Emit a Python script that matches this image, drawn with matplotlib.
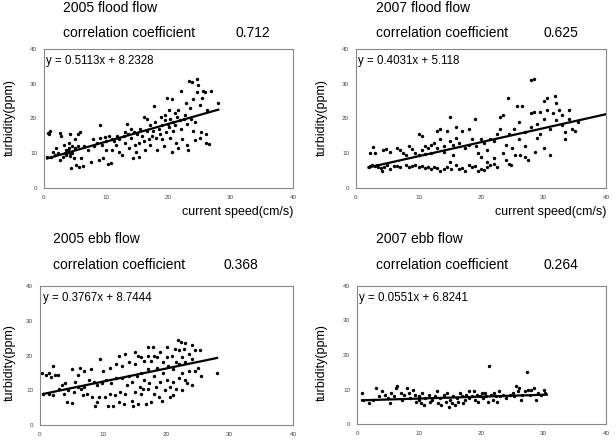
import matplotlib
matplotlib.use('Agg')
import matplotlib.pyplot as plt

plt.rcParams['font.family'] = ['Liberation Sans', 'DejaVu Sans']

W, H = 616, 446

# ---- 2005 flood flow ----
f05_x = [0.5, 0.8, 1, 0.7, 1.2, 1.5, 1.8, 2, 2.3, 2.5, 2.5, 2.8, 3, 3.2, 3.3, 3.5, 3.6, 3.8, 4, 4,
         4.1, 4.2, 4.3, 4.5, 4.5, 4.8, 5, 5, 5.2, 5.5, 5.5, 5.7, 5.8, 6, 6.2, 3.5, 3.8, 4.2,
         6.5, 7, 7.5, 7.8, 8, 8.5, 8.8, 9, 9, 9.3, 9.5, 9.8, 10, 10, 10.3, 10.5, 10.7, 11, 11,
         11.3, 11.5, 11.8, 12, 12, 12.5, 12.8, 13, 13, 13.3, 13.5, 13.7, 14, 14, 14.3, 14.5,
         14.6, 14.8, 15, 15.2, 15.3, 15.5, 15.7, 16, 16, 16.3, 16.5, 16.6, 16.8, 17, 17, 17.3,
         17.5, 17.7, 17.9, 18, 18.2, 18.4, 18.6, 18.8, 19, 19, 19.2, 19.4, 19.5, 19.6, 19.8,
         19.9, 20, 20, 20.2, 20.3, 20.5, 20.5, 20.7, 20.8, 21, 21, 21.2, 21.3, 21.5, 21.6,
         21.8, 22, 22, 22.2, 22.5, 22.6, 22.8, 23, 23, 23.2, 23.3, 23.5, 23.6, 23.8, 24, 24,
         24.2, 24.3, 24.5, 24.6, 24.8, 25, 25, 25.2, 25.4, 25.5, 25.8, 26, 26, 26.2, 26.5,
         26.8, 28]
f05_y = [9, 15.5, 16.5, 15.8, 8.8, 10.5, 9.5, 11.5, 10, 8, 15.8, 15, 9, 12.5, 10.2, 11, 9.8,
         10.5, 11.5, 13, 9.2, 15.5, 5.8, 10, 12, 8.5, 11.5, 14, 6.5, 15.5, 12, 6, 16, 8.5, 6.2,
         9.5, 10.8, 10.2,
         12, 11, 7.5, 14, 12, 13, 8, 18, 14.5, 12.5, 8.5, 14.8, 11, 13.5, 7, 15, 7.2, 11, 14,
         13.5, 12.5, 15, 10.5, 14, 9.5, 15, 16, 13, 18.5, 15.5, 11.5, 14.5, 17, 8.5, 16,
         12.5, 10.5, 15.5, 8.8, 13, 17, 15, 20.5, 13.5, 11, 16.5, 20, 14, 12.5, 18, 15,
         16.5, 23.5, 19, 14.5, 10.8, 17, 15.5, 20.5, 18, 14, 12, 21, 19.5, 16, 26,
         18.5, 22.5, 17.5, 20, 14.5, 10.5, 25.5, 19, 16.5, 21.5, 18, 13, 20.5, 22.5, 11.5,
         19.5, 28, 17, 14, 20, 21, 24.5, 18.5, 12.5, 11, 30.8, 23, 20, 30.5, 16.5, 25.5,
         19, 13.8, 27.5, 31.5, 29.5, 24, 14.5, 16, 26, 27.8, 27.5, 15.5, 13, 22.5, 12.8,
         27.8, 24.5]

# ---- 2007 flood flow ----
f07_x = [2, 2.3, 2.6, 3, 3.3, 3.5, 4, 4.2, 4.5, 5, 5.5, 6, 6.5, 7, 8, 8.5, 9, 9.5, 10, 10.5,
         11, 11.5, 12, 12.5, 13, 13.5, 14, 14.5, 15, 15.2, 16, 16.5, 17, 17.5, 18, 18.5, 19,
         19.5, 20, 20.5, 21, 21.5, 22, 22.5,
         2.3, 2.7, 3, 4.3, 4.8, 5.5, 6.5, 7, 7.5, 8, 8.5, 9, 9.5, 10, 10, 10.5, 10.5, 11, 11,
         11.5, 12, 12, 12.5, 13, 13, 13.5, 13.5, 14, 14, 14.5, 15, 15, 15.5, 15.5, 16, 16,
         16.5, 17, 17.5, 18, 18, 18.5, 19, 19.2, 19.5, 20, 20, 20.5, 21, 21, 21.5, 22, 22,
         22.5, 23, 23, 23.5, 23.5, 24, 24, 24.3, 24.5, 24.5, 24.8, 25, 25.3, 25.5, 25.8, 26,
         26, 26.3, 26.5, 27, 27, 27, 27.5, 28, 28, 28, 28.5, 28.5, 28.7, 29, 29, 29.5, 29.5,
         30, 30, 30, 30.5, 30.5, 31, 31, 31.5, 31.8, 32, 32, 32.5, 33, 33, 33.5, 33.5, 34,
         34, 34.5, 35, 35.5]
f07_y = [6, 6.2, 6.5, 6.3, 6.5, 6, 5.8, 4.8, 6, 6.5, 5.5, 6.3, 6.2, 6, 6.5, 6, 6.2, 6.5, 6,
         6.2, 5.8, 6, 5.5, 6, 5.8, 5, 5.5, 6, 7.5, 5.5, 6.5, 5.5, 5.8, 5, 6.5, 6, 6.2, 5, 5.5,
         5.2, 6, 6.5, 7, 6,
         10, 11.7, 10.2, 11, 11.2, 10.5, 11.5, 11, 10, 9.5, 12, 11.3, 10, 9.5, 15.5, 11, 15,
         12, 9.8, 11.5, 12.5, 10, 13, 16.5, 11.5, 14, 17, 12, 10.5, 16.5, 20.5, 13.5, 12.5,
         9.5, 17.5, 14.5, 13, 16.5, 11.5, 17, 12.5, 14, 20, 12, 10, 9, 14, 13, 11, 7.5, 14,
         13.5, 8.5, 15.5, 17, 20.5, 21, 10, 12.5, 8, 26, 15.5, 7, 6.5, 11.5, 17, 9.5, 23.5,
         19, 14, 9.5, 23.5, 16, 12, 9, 8, 21.5, 17.5, 31, 31.5, 22, 10.5, 18.5, 14.5, 22,
         15.5, 25, 20, 11.5, 26, 22.5, 9.5, 17, 21.5, 26.5, 19.5, 24.5, 22.5, 18, 21, 16, 14,
         20, 22.5, 17, 16.5, 19]

# ---- 2005 ebb flow ----
e05_x = [0.3, 1, 1.5, 1.8, 2, 2.3, 2.8, 0.5, 1.5, 2, 3, 3.5, 3.8, 4, 4.2, 4.5, 5, 5, 5.3, 5.5,
         6, 6, 6.3, 6.5, 6.8, 7, 7, 7.5, 7.8, 8, 8.3, 8.5, 8.7, 9, 9, 9.3, 9.5, 9.8, 10, 10.3,
         10.5, 10.7, 11, 11, 11.3, 11.5, 11.8, 12, 12, 12.5, 12.5, 12.7, 13, 13, 13.3, 13.5,
         13.5, 13.8, 14, 14, 14.5, 14.5, 14.7, 15, 15, 15, 15.3, 15.5, 15.5, 15.8, 16, 16, 16,
         16.3, 16.5, 16.5, 16.8, 17, 17, 17, 17, 17.3, 17.5, 17.5, 17.8, 18, 18, 18, 18.3,
         18.5, 18.5, 18.8, 19, 19, 19.3, 19.5, 19.5, 19.8, 20, 20, 20, 20.3, 20.5, 20.5, 20.8,
         21, 21, 21, 21.3, 21.5, 21.5, 21.8, 22, 22, 22, 22.3, 22.5, 22.5, 22.5, 22.8, 23, 23,
         23, 23.3, 23.5, 23.5, 24, 24, 24, 24.5, 24.5, 25, 25.3, 25.5, 28]
e05_y = [15, 14.5, 15, 13.8, 17, 14.5, 14.5, 9, 9, 8.5, 10.5, 11.5, 9, 12, 6.5, 10, 6.3, 16,
         9.5, 12.5, 14.5, 11, 16.5, 10.5, 8.5, 15.5, 11, 9, 13, 16, 8, 12.5, 5.5, 6.5, 11.5, 8,
         19, 12, 15.5, 8, 13, 5.5, 9, 16.5, 12, 5.5, 8.5, 13.5, 17.5, 20, 6.5, 9.5, 17, 13.5,
         6, 20.5, 9, 11.5, 14, 18, 12.5, 7, 5.5, 21, 17.5, 9.5, 14, 20, 6, 11, 19.5, 15, 9,
         10.5, 18.5, 13, 6, 22.5, 20, 16, 10.5, 12, 18.5, 6.5, 22.5, 20, 14, 9, 11, 19.5,
         16.5, 8, 21, 12.5, 7, 18, 15, 10, 22.5, 19.5, 13, 17, 11, 8, 20, 16, 12.5, 8.5, 22,
         18, 10.5, 24.5, 21.5, 17.5, 13.5, 24, 19.5, 15, 10, 22, 23.5, 18, 13, 12, 20.5, 15.5,
         23, 19, 11.5, 21.5, 15.5, 16.5, 21.5, 14, 15]

# ---- 2007 ebb flow ----
e07_x = [0.8, 1, 2, 2.5, 3, 3.5, 4, 4.5, 5, 5.3, 5.5, 6, 6.3, 6.5, 7, 7.3, 7.5, 8, 8.3, 8.5,
         9, 9.3, 9.5, 10, 10, 10.3, 10.5, 10.8, 11, 11.5, 11.8, 12, 12.5, 12.8, 13, 13.3,
         13.5, 14, 14.3, 14.5, 14.8, 15, 15.3, 15.5, 15.8, 16, 16.3, 16.5, 16.8, 17, 17.3,
         17.5, 18, 18, 18.5, 18.8, 19, 19.3, 19.5, 19.8, 20, 20.3, 20.5, 20.8, 21, 21.2, 21.5,
         21.8, 22, 22.3, 22.5, 22.8, 23, 23.5, 24, 24.5, 25, 25.3, 25.5, 25.8, 26, 26.3, 26.5,
         27, 27.3, 27.5, 27.8, 28, 28.5, 28.8, 29, 29.5, 30, 30.2]
e07_y = [9, 7, 6, 7, 10.5, 8, 9.5, 8.5, 7.5, 6, 9, 8, 10.5, 11, 9, 7, 8.5, 10.5, 9, 7.5, 10,
         8.5, 6.5, 7, 8, 6, 9, 5.5, 7.5, 8.5, 6.5, 7, 8, 9.5, 6, 7.5, 5.5, 8.5, 6.5, 9, 5, 7,
         6, 8, 5.5, 7.5, 6.5, 9, 8, 6, 7, 8.5, 9.5, 7.5, 8, 9.5, 7, 8.5, 6.5, 8, 9, 7.5, 9, 8,
         6.5, 16.7, 8.5, 7, 9, 8, 6.5, 9.5, 8, 8.5, 7.5, 8.5, 9, 8, 11, 9.5, 10.5, 7, 8.5, 9.5,
         15, 10, 8.5, 10, 10.5, 7, 9, 8.5, 10, 9]

panels = [
    # data, slope, intercept, line x-range, axes box (px), title, r, xlabel
    (f05_x, f05_y, 0.5113, 8.2328, (0.5, 28), (44, 49, 293, 188), '2005 flood flow', '0.712', True),
    (f07_x, f07_y, 0.4031, 5.118, (2, 40), (356, 49, 606, 188), '2007 flood flow', '0.625', True),
    (e05_x, e05_y, 0.3767, 8.7444, (0.5, 28), (40, 286, 293, 425), '2005 ebb flow', '0.368', False),
    (e07_x, e07_y, 0.0551, 6.8241, (0.8, 30.5), (357, 286, 606, 424), '2007 ebb flow', '0.264', False),
]

fig = plt.figure(figsize=(W / 100, H / 100), dpi=100)


def fx(px):
    return px / W


def fy(py):
    return 1 - py / H


for xs, ys, a, b, (x0, x1), (l, t, r, bt), title, rval, has_xlabel in panels:
    ax = fig.add_axes([fx(l), fy(bt), (r - l) / W, (bt - t) / H])
    ax.scatter(xs, ys, s=6, color='black', linewidths=0)
    ax.plot([x0, x1], [a * x0 + b, a * x1 + b], color='black', lw=1.6)
    ax.set_xlim(0, 40)
    ax.set_ylim(0, 40)
    ax.set_xticks([0, 10, 20, 30, 40])
    ax.set_yticks([0, 10, 20, 30, 40])
    ax.tick_params(length=0, labelsize=4.5, labelcolor='#444444', pad=5)
    for sp in ax.spines.values():
        sp.set_color('#888888')
        sp.set_linewidth(0.8)
    ax.text(0.01, 0.96, 'y = %.4gx + %s' % (a, ('%.4f' % b).rstrip('0')),
            transform=ax.transAxes, ha='left', va='top', fontsize=8.3)

    # headings above each panel
    hl = 63 if l < 300 and has_xlabel else (53 if l < 300 else 376)
    ty = 8 if has_xlabel else 239
    cy = 33 if has_xlabel else 265
    fig.text(fx(hl), fy(ty), title, fontsize=10, ha='left', va='center')
    fig.text(fx(hl), fy(cy), 'correlation coefficient', fontsize=10, ha='left', va='center')
    rx = {63: 235, 376: 543, 53: 223}[hl]
    fig.text(fx(rx), fy(cy), rval, fontsize=10, ha='left', va='center')

    # y label
    ylx = 10 if l < 300 else 322
    yly = 118 if has_xlabel else 363
    fig.text(fx(ylx), fy(yly), 'turbidity(ppm)', fontsize=9, rotation=90,
             ha='center', va='center')

    if has_xlabel:
        fig.text(fx(r), fy(212), 'current speed(cm/s)', fontsize=9, ha='right', va='center')

fig.savefig('out.png', dpi=100)
